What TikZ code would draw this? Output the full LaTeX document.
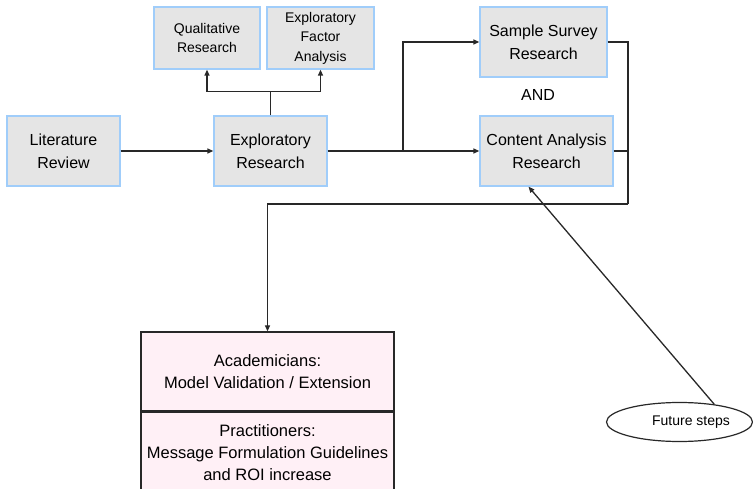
\documentclass[tikz,border=0pt]{standalone}
\usepackage{fontspec}
\setmainfont{Liberation Sans}
\usetikzlibrary{arrows.meta,positioning,shapes.geometric}

\definecolor{boxgray}{RGB}{229,229,229}
\definecolor{boxblue}{RGB}{160,205,250}
\definecolor{outpink}{RGB}{255,240,246}
\definecolor{linegray}{RGB}{40,40,40}

\begin{document}
\begin{tikzpicture}[x=1pt,y=1pt,
    stage/.style={draw=boxblue, line width=1.3pt, fill=boxgray, align=center,
        font=\fontsize{16}{23}\selectfont, inner sep=0pt},
    substage/.style={stage, font=\fontsize{14}{19.5}\selectfont},
    outcome/.style={draw=linegray, line width=1.3pt, fill=outpink, align=center,
        font=\fontsize{16.5}{22}\selectfont, minimum width=253pt, inner sep=0pt},
    link/.style={draw=linegray, line width=1.3pt},
    arr/.style={link, -{Triangle[length=6pt,width=5pt]}}]

\useasboundingbox (0,0) rectangle (753,488);

\node[stage, minimum width=113pt, minimum height=70pt] (lit) at (63.5,337) {Literature\\Review};
\node[stage, minimum width=113pt, minimum height=70pt] (expl) at (270.5,337) {Exploratory\\Research};
\node[substage, minimum width=106pt, minimum height=62pt] (qual) at (207,450) {Qualitative\\Research};
\node[substage, minimum width=107pt, minimum height=62pt] (efa) at (320.5,450) {Exploratory\\Factor\\Analysis};
\node[stage, minimum width=127pt, minimum height=70pt] (survey) at (543.5,446) {Sample Survey\\Research};
\node[stage, minimum width=133pt, minimum height=70pt] (content) at (546.5,337) {Content Analysis\\Research};
\node[font=\fontsize{16}{18}\selectfont] (and) at (538,393) {AND};

\node[outcome, minimum height=79pt] (acad) at (267.5,116.5) {Academicians:\\ Model Validation / Extension};
\node[outcome, minimum height=81pt, below=0pt of acad] (pract) {Practitioners:\\Message Formulation Guidelines\\and ROI increase};

\node[draw=linegray, line width=1.2pt, ellipse, fill=white, minimum width=146pt, minimum height=39pt,
    inner sep=0pt, font=\fontsize{14}{17}\selectfont] (fut) at (679.5,66) {\hspace*{23pt}Future steps};

\draw[arr] (lit) -- (expl);

\draw[link] (expl.north) -- ++(0,24) coordinate (up);
\foreach \t in {qual,efa}
    \draw[arr] (up) -| (\t.south);

\draw[arr] (expl.east) -- (content.west |- expl.east);
\draw[arr] (403,337) |- (survey.west);

\draw[link] (survey.east) -| (628,284) coordinate (back);
\draw[link] (content.east) -- (content.east -| back);
\draw[arr] (back) -| (acad.north);

\draw[arr] (fut.27) -- ([xshift=-18pt]content.south);
\end{tikzpicture}
\end{document}
